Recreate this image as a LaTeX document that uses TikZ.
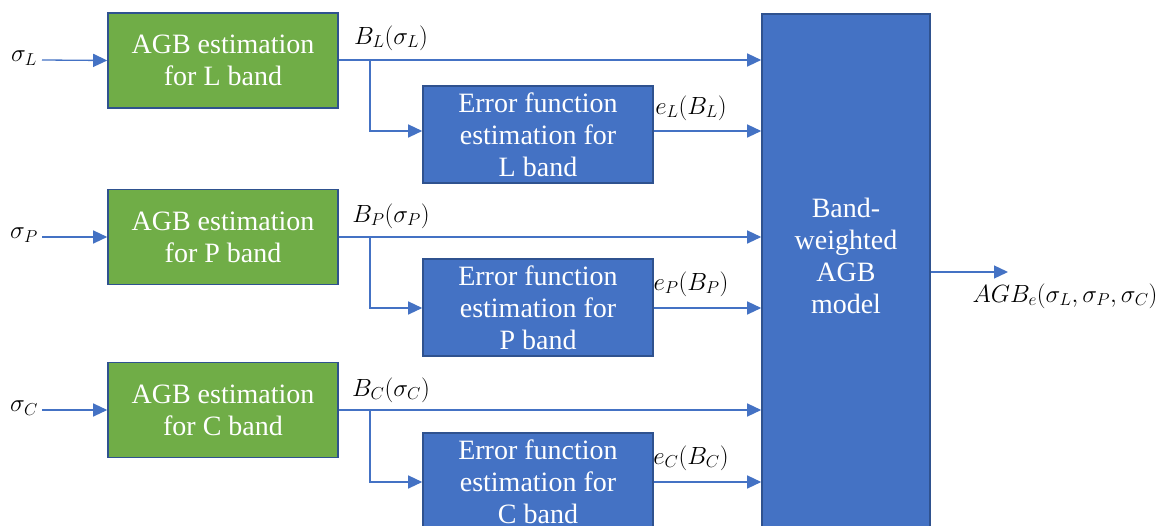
\documentclass[tikz,border=0pt]{standalone}
\usepackage{fontspec}
\setmainfont{Liberation Serif}
\usetikzlibrary{arrows.meta}
\definecolor{agbgreen}{HTML}{70AD47}
\definecolor{agbblue}{HTML}{4472C4}
\definecolor{edgeblue}{HTML}{2F528F}
\tikzset{
  greenbox/.style={draw=edgeblue, line width=1.6pt, fill=agbgreen, text=white, minimum width=230pt, minimum height=95pt, align=center, inner sep=0pt, font=\fontsize{28}{32}\selectfont},
  bluebox/.style={draw=edgeblue, line width=1.6pt, fill=agbblue, text=white, minimum width=230pt, minimum height=97pt, align=center, inner sep=0pt, font=\fontsize{28}{32}\selectfont},
  conn/.style={draw=agbblue, line width=1.3pt, -{Triangle[length=14pt,width=13pt]}},
  lab/.style={inner sep=0pt, font=\fontsize{27}{30}\selectfont},
}
\begin{document}
\begin{tikzpicture}[x=1pt,y=-1pt]
\clip (0,0) rectangle (1160,526);
\fill[white] (0,0) rectangle (1160,526);
% big box
\node[bluebox, minimum width=168pt, minimum height=540pt, anchor=north] (big) at (846,13) {};
\node[text=white, align=center, inner sep=0pt, font=\fontsize{28}{32}\selectfont] (bigtxt) at (846,256) {Band-\\weighted\\AGB\\model};
% green boxes
\node[greenbox] (gL) at (223,60.5) {AGB estimation\\for L band};
\node[greenbox] (gP) at (223,237) {AGB estimation\\for P band};
\node[greenbox] (gC) at (223,410) {AGB estimation\\for C band};
% error boxes
\node[bluebox] (eL) at (538,134.5) {Error function\\estimation for\\L band};
\node[bluebox] (eP) at (538,307.5) {Error function\\estimation for\\P band};
\node[bluebox] (eC) at (538,481.5) {Error function\\estimation for\\C band};
% inputs
\node[lab] (sL) at (24,58) {$\sigma_L$};
\node[lab] (sP) at (24,235) {$\sigma_P$};
\node[lab] (sC) at (24,408) {$\sigma_C$};
\coordinate (iL) at (42,60);
\coordinate (iP) at (42,237);
\coordinate (iC) at (42,410);
\draw[conn] (iL) -- (gL.west);
\draw[conn] (iP) -- (gP.west);
\draw[conn] (iC) -- (gC.west);
% main lines
\draw[conn] (gL.east |- 0,60) -- (big.west |- 0,60);
\draw[conn] (gP.east |- 0,237) -- (big.west |- 0,237);
\draw[conn] (gC.east |- 0,410) -- (big.west |- 0,410);
% branches
\coordinate (bL) at (370,60);
\coordinate (bP) at (370,237);
\coordinate (bC) at (370,410);
\draw[conn] (bL) |- (eL.west |- 0,131);
\draw[conn] (bP) |- (eP.west |- 0,308);
\draw[conn] (bC) |- (eC.west |- 0,482);
% error outputs
\draw[conn] (eL.east |- 0,131) -- (big.west |- 0,131);
\draw[conn] (eP.east |- 0,308) -- (big.west |- 0,308);
\draw[conn] (eC.east |- 0,482) -- (big.west |- 0,482);
% labels
\node[lab] (lBL) at (391,38) {$B_L(\sigma_L)$};
\node[lab] (lBP) at (391,216) {$B_P(\sigma_P)$};
\node[lab] (lBC) at (391,390) {$B_C(\sigma_C)$};
\node[lab] (leL) at (691,108) {$e_L(B_L)$};
\node[lab] (leP) at (691,284) {$e_P(B_P)$};
\node[lab] (leC) at (691,458) {$e_C(B_C)$};
% output
\coordinate (out) at (1008,272);
\draw[conn] (big.east |- 0,272) -- (out);
\node[lab, font=\fontsize{26}{30}\selectfont] (lout) at (1065,296) {$AGB_e(\sigma_L,\sigma_P,\sigma_C)$};
\end{tikzpicture}
\end{document}
